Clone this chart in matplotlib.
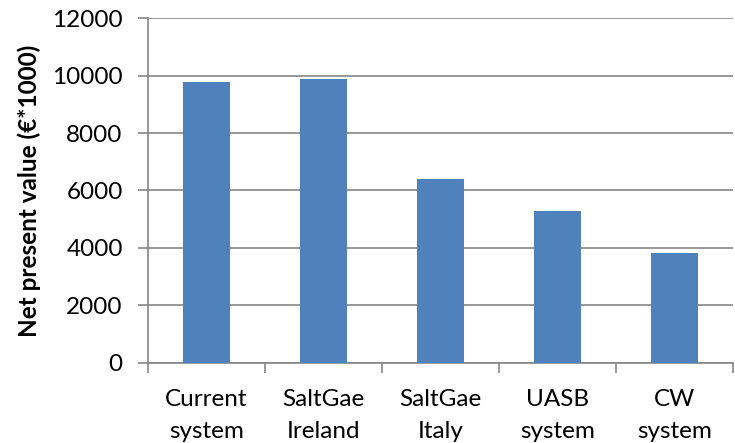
import numpy as np
import matplotlib.pyplot as plt

# data
categories = ['Current\nsystem', 'SaltGae\nIreland', 'SaltGae\nItaly', 'UASB\nsystem', 'CW\nsystem']
npv = [9780, 9880, 6400, 5270, 3840]
yticks = [0, 2000, 4000, 6000, 8000, 10000, 12000]

plt.rcParams['font.family'] = ['Lato', 'DejaVu Sans']

fig = plt.figure(figsize=(7.35, 4.43), dpi=100)
ax = fig.add_axes([0.201, 0.181, 0.796, 0.778])

x = np.arange(len(categories))
ax.bar(x, npv, width=0.4, color='#4F81BD', zorder=3)

ax.set_xlim(-0.5, len(categories) - 0.5)
ax.set_ylim(0, 12000)
ax.set_yticks(yticks)
ax.set_yticklabels([str(v) for v in yticks], fontsize=17.5)
ax.yaxis.grid(True, color='#868686', linewidth=1.2, zorder=0)

# category labels centred, ticks on the boundaries
ax.set_xticks(x)
ax.set_xticklabels(categories, fontsize=17.5, linespacing=1.62)
ax.tick_params(axis='x', length=0, pad=19)
ax.set_xticks(np.arange(len(categories) + 1) - 0.5, minor=True)
ax.tick_params(axis='x', which='minor', length=7, color='#868686', width=1.2)
ax.tick_params(axis='y', length=7, color='#868686', width=1.2, pad=11)

for side in ['top', 'right']:
    ax.spines[side].set_visible(False)
for side in ['left', 'bottom']:
    ax.spines[side].set_color('#868686')
    ax.spines[side].set_linewidth(1.2)

ax.set_ylabel('Net present value (€*1000)', fontsize=17.5, fontweight='bold', labelpad=8)

fig.savefig('out.png', dpi=100)
